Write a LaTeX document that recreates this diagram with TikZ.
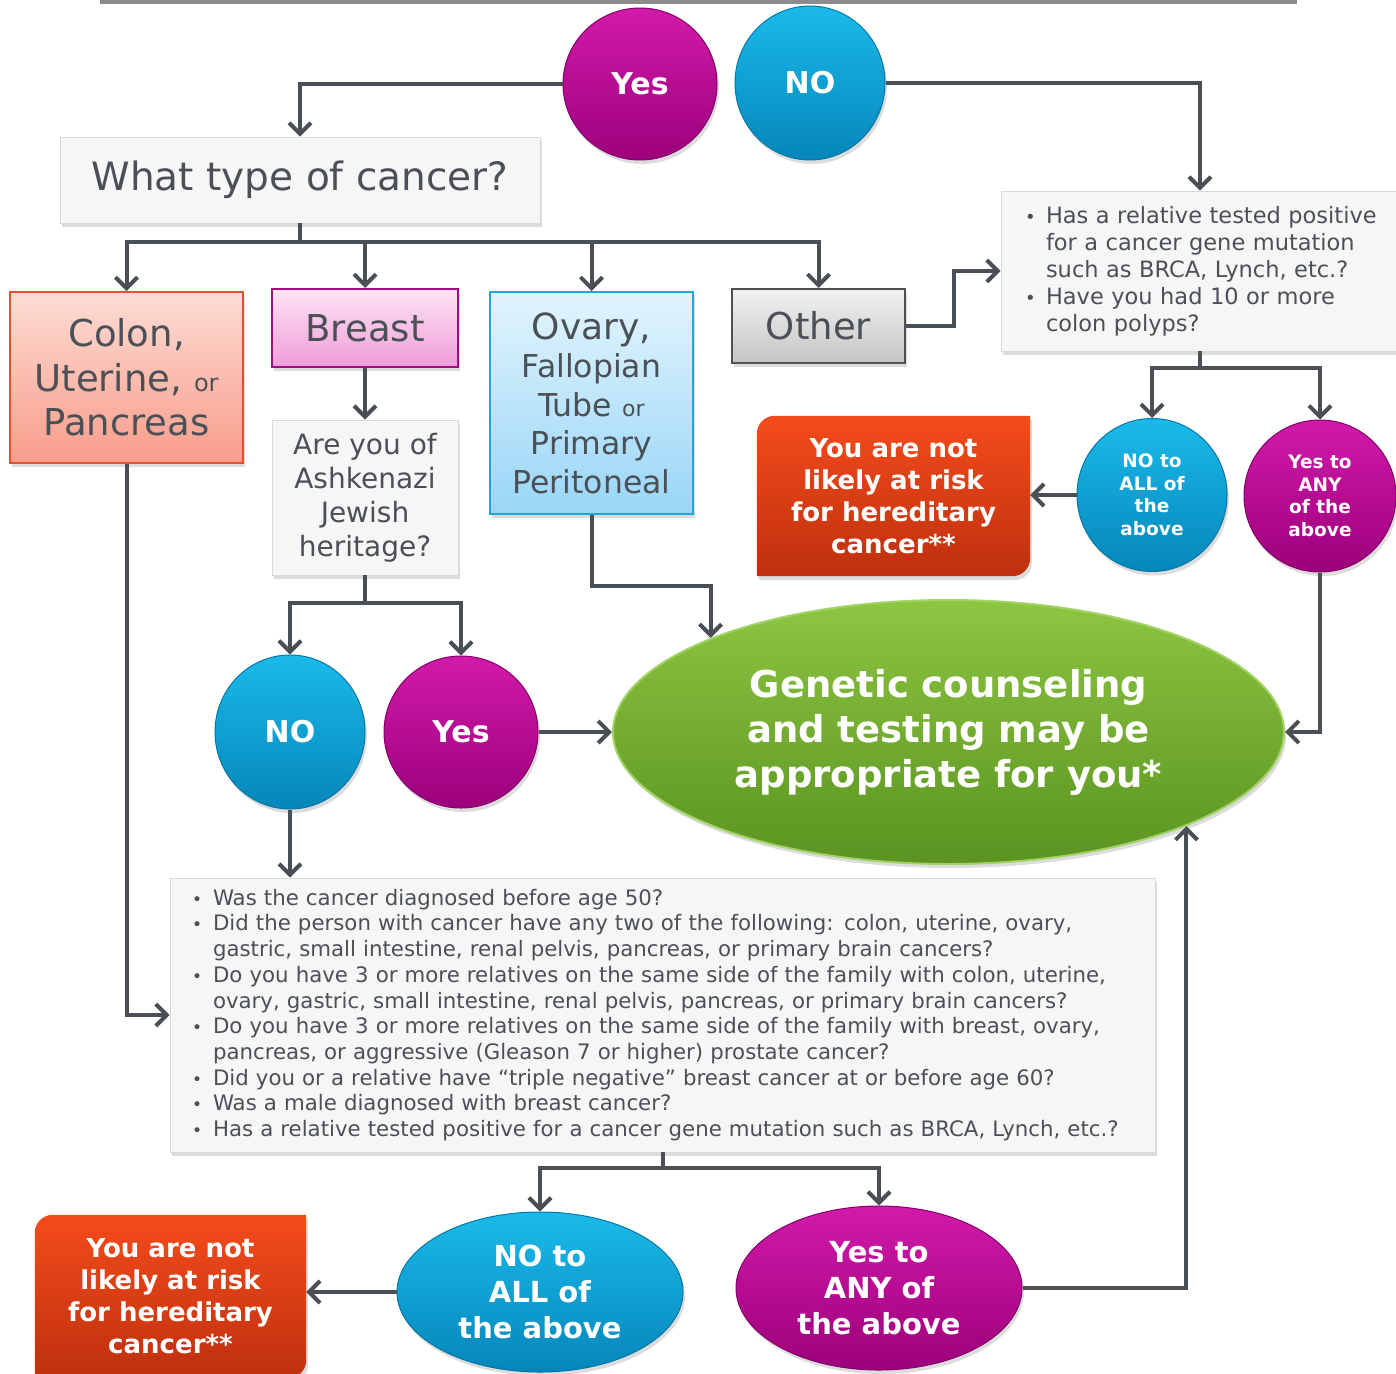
\documentclass[tikz,border=0pt]{standalone}
\usepackage{fontspec}
\setmainfont{DejaVu Sans}
\usetikzlibrary{shapes.geometric,arrows.meta,shadows,calc,backgrounds}
\definecolor{lnc}{HTML}{4A4F55}
\definecolor{txt}{HTML}{4B5056}
\definecolor{boxfill}{HTML}{F6F6F6}
\definecolor{boxbd}{HTML}{DADADA}
\definecolor{colt}{HTML}{FDDCD4}
\definecolor{colb}{HTML}{F89C8A}
\definecolor{colbd}{HTML}{E0532F}
\definecolor{brt}{HTML}{FCE4F3}
\definecolor{brb}{HTML}{EE9DD8}
\definecolor{brbd}{HTML}{A10C80}
\definecolor{ovt}{HTML}{E2F4FD}
\definecolor{ovb}{HTML}{98D6F7}
\definecolor{ovbd}{HTML}{22A6D6}
\definecolor{ott}{HTML}{F2F2F2}
\definecolor{otb}{HTML}{C4C4C4}
\definecolor{otbd}{HTML}{505050}
\definecolor{magt}{HTML}{D21AAA}
\definecolor{magb}{HTML}{9C007B}
\definecolor{magbd}{HTML}{85006A}
\definecolor{blut}{HTML}{1ABAEA}
\definecolor{blub}{HTML}{0686BA}
\definecolor{blubd}{HTML}{0677A6}
\definecolor{redt}{HTML}{F44B1B}
\definecolor{redb}{HTML}{BE300E}
\definecolor{grnt}{HTML}{8DC641}
\definecolor{grnb}{HTML}{5A9320}
\definecolor{grnbd}{HTML}{A3D366}
\newcommand{\fsz}[2]{\fontsize{#1}{#2}\selectfont}
\newcommand{\bul}{\makebox[21pt][l]{\scalebox{0.8}{•}}}
\newcommand{\cont}{\hspace*{21pt}}
\begin{document}
\begin{tikzpicture}[x=1pt,y=-1pt,
  arr/.style={draw=lnc, line width=4pt, -{Straight Barb[length=11pt,width=22pt]}},
  shd/.style={drop shadow={shadow xshift=2pt, shadow yshift=-4pt, opacity=0.28}},
  graybox/.style={rectangle, draw=boxbd, line width=0.8pt, fill=boxfill, shd, text=txt, inner sep=0pt},
  cbox/.style={rectangle, line width=2pt, text=txt, inner sep=0pt, shd},
  ball/.style={ellipse, inner sep=0pt, text=white, line width=1pt, shd},
  magball/.style={ball, top color=magt, bottom color=magb, draw=magbd},
  bluball/.style={ball, top color=blut, bottom color=blub, draw=blubd},
  redbox/.style={rectangle, inner sep=0pt, text=white, align=center, font=\bfseries\fsz{26}{32}}
]
\useasboundingbox (0,0) rectangle (1396,1373);
% top edge of a box above the picture
\fill[black!45] (100,0) rectangle (1297,3.5);

% ---- nodes ----
\node[magball, minimum width=154pt, minimum height=152pt, font=\bfseries\fsz{30}{36}] (yes1) at (640,84) {Yes};
\node[bluball, minimum width=150pt, minimum height=154pt, font=\bfseries\fsz{30}{36}] (no1) at (810,83) {NO};

\node[graybox, minimum width=480pt, minimum height=86pt, font=\fsz{39}{45}] (q1) at (300,180) {What type of cancer?};

\node[cbox, draw=colbd, top color=colt, bottom color=colb, minimum width=233pt, minimum height=171pt, align=center, font=\fsz{37}{44.5}] (colon) at (126.5,377.5) {Colon,\\Uterine, {\fsz{24}{44.5}or}\\Pancreas};
\node[cbox, draw=brbd, top color=brt, bottom color=brb, minimum width=186pt, minimum height=78pt, font=\fsz{37}{44}] (breast) at (365,328) {Breast};
\node[cbox, draw=ovbd, top color=ovt, bottom color=ovb, minimum width=203pt, minimum height=222pt, align=center, font=\fsz{31.5}{38.5}] (ovary) at (591.5,403) {{\fsz{36}{38.5}Ovary,}\\Fallopian\\Tube {\fsz{22}{38.5}or}\\Primary\\Peritoneal};
\node[cbox, draw=otbd, top color=ott, bottom color=otb, minimum width=173pt, minimum height=74pt, font=\fsz{37}{44}] (other) at (818.5,326) {Other};

\node[graybox, minimum height=160pt, text width=370pt, inner xsep=24pt, align=left, font=\fsz{22.5}{27}] (rel) at (1210,271)
 {\bul Has a relative tested positive\\\cont for a cancer gene mutation\\\cont such as BRCA, Lynch, etc.?\\\bul Have you had 10 or more\\\cont colon polyps?};

\node[redbox, minimum width=273pt, minimum height=160pt] (notrisk1) at (893.5,496) {You are not\\likely at risk\\for hereditary\\cancer**};
\node[bluball, minimum width=150pt, minimum height=153pt, align=center, font=\bfseries\fsz{18.5}{22.5}] (noall1) at (1152,495) {NO to\\ALL of\\the\\above};
\node[magball, minimum width=152pt, minimum height=152pt, align=center, font=\bfseries\fsz{18.5}{22.5}] (yesany1) at (1320,496) {Yes to\\ANY\\of the\\above};

\node[graybox, minimum width=186pt, minimum height=155pt, align=center, font=\fsz{28}{34}] (ashk) at (365,497.5) {Are you of\\Ashkenazi\\Jewish\\heritage?};

\node[bluball, minimum width=150pt, minimum height=154pt, font=\bfseries\fsz{30}{36}] (no2) at (290,732) {NO};
\node[magball, minimum width=154pt, minimum height=152pt, font=\bfseries\fsz{30}{36}] (yes2) at (461,732) {Yes};

\node[ellipse, inner sep=0pt, minimum width=671pt, minimum height=264pt, top color=grnt, bottom color=grnb, draw=grnbd, line width=2pt, shd, text=white, align=center, font=\bfseries\fsz{37}{45}] (gc) at (948.5,732) {Genetic counseling\\and testing may be\\appropriate for you*};

\node[graybox, minimum height=274pt, text width=941pt, inner xsep=22pt, align=left, font=\fsz{21.3}{25.7}] (crit) at (662.5,1015)
 {\bul Was the cancer diagnosed before age 50?\\
  \bul Did the person with cancer have any two of the following: colon, uterine, ovary,\\
  \cont gastric, small intestine, renal pelvis, pancreas, or primary brain cancers?\\
  \bul Do you have 3 or more relatives on the same side of the family with colon, uterine,\\
  \cont ovary, gastric, small intestine, renal pelvis, pancreas, or primary brain cancers?\\
  \bul Do you have 3 or more relatives on the same side of the family with breast, ovary,\\
  \cont pancreas, or aggressive (Gleason 7 or higher) prostate cancer?\\
  \bul Did you or a relative have “triple negative” breast cancer at or before age 60?\\
  \bul Was a male diagnosed with breast cancer?\\
  \bul Has a relative tested positive for a cancer gene mutation such as BRCA, Lynch, etc.?};

\node[bluball, minimum width=286pt, minimum height=160pt, align=center, font=\bfseries\fsz{29}{36}] (noall2) at (540,1292) {NO to\\ALL of\\the above};
\node[magball, minimum width=286pt, minimum height=164pt, align=center, font=\bfseries\fsz{29}{36}] (yesany2) at (879,1288) {Yes to\\ANY of\\the above};
\node[redbox, minimum width=271pt, minimum height=163pt] (notrisk2) at (170.5,1296.5) {You are not\\likely at risk\\for hereditary\\cancer**};

% red box backgrounds (rounded diagonal corners)
\begin{scope}[on background layer]
\foreach \r in {notrisk1,notrisk2}{
  \path[top color=redt, bottom color=redb, shd]
    (\r.south west) -- ([yshift=-18pt]\r.north west) arc[start angle=180,end angle=90,radius=18pt]
    -- (\r.north east) -- ([yshift=18pt]\r.south east) arc[start angle=0,end angle=-90,radius=18pt] -- cycle;
}
\end{scope}

% ---- connectors ----
\draw[arr] (yes1.west) -| (q1.north);
\draw[arr] (no1.east) -| ([xshift=-10pt]rel.north);
\foreach \t in {colon,breast,ovary,other}
  \draw[arr] (q1.south) -- ++(0,19) -| (\t.north);
\draw[arr] (other.east) -- ++(48,0) |- (rel.west);
\foreach \t in {noall1,yesany1}
  \draw[arr] ([xshift=-10pt]rel.south) -- ++(0,17) -| (\t.north);
\draw[arr] (noall1.west) -- (notrisk1.east |- noall1.west);
\draw[arr] (yesany1.south) |- (gc.east);
\draw[arr] (breast.south) -- (ashk.north);
\foreach \t in {no2,yes2}
  \draw[arr] (ashk.south) -- ++(0,28) -| (\t.north);
\draw[arr] (yes2.east) -- (gc.west);
\draw[arr] (ovary.south) -- ++(0,71) -| (gc.north west);
\draw[arr] (no2.south) -- (no2.south |- crit.north);
\draw[arr] (colon.south) |- (crit.west);
\foreach \t in {noall2,yesany2}
  \draw[arr] (crit.south) -- ++(0,16) -| (\t.north);
\draw[arr] (noall2.west) -- (notrisk2.east |- noall2.west);
\draw[arr] (yesany2.east) -| (gc.south east);
\end{tikzpicture}
\end{document}
